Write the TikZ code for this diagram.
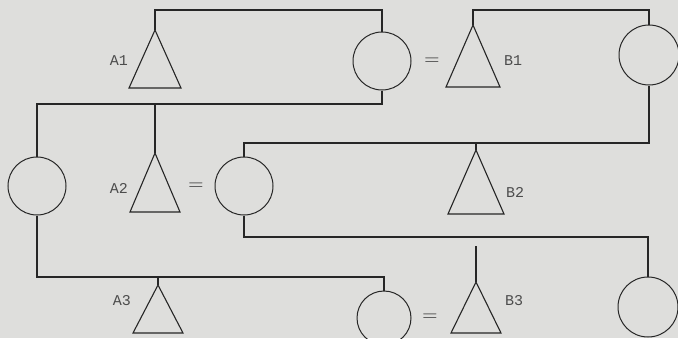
\documentclass[tikz,border=0pt]{standalone}
\usepackage{fontspec}
\setmonofont{Liberation Mono}
\begin{document}
\begin{tikzpicture}[x=1pt,y=-1pt,
  line/.style={draw=black!85,line width=1.1pt},
  fem/.style={circle,draw=black!85,line width=1pt,inner sep=0pt,minimum size=#1},
  lbl/.style={font=\ttfamily\fontsize{15}{15}\selectfont,text=black!70},
  eqs/.style={font=\fontsize{21}{21}\selectfont,text=black!80}]
\fill[color={rgb,255:red,222;green,222;blue,220}] (0,0) rectangle (678,338);
\useasboundingbox (0,0) rectangle (678,338);
% apex coordinates of males
\coordinate (a1) at (155,30);
\coordinate (b1) at (473,25);
\coordinate (a2) at (155,153);
\coordinate (b2) at (476,150);
\coordinate (a3) at (158,285);
\coordinate (b3) at (476,282);
\coordinate (b3t) at (476,246);
% triangles
\draw[line] (a1) -- ++(-26,58) -- ++(52,0) -- cycle;
\draw[line] (b1) -- ++(-27,62) -- ++(54,0) -- cycle;
\draw[line] (a2) -- ++(-25,59) -- ++(50,0) -- cycle;
\draw[line] (b2) -- ++(-28,64) -- ++(56,0) -- cycle;
\draw[line] (a3) -- ++(-25,48) -- ++(50,0) -- cycle;
\draw[line] (b3) -- ++(-25,51) -- ++(50,0) -- cycle;
% females
\node[fem=58] (c1) at (382,61) {};
\node[fem=60] (c2) at (649,55) {};
\node[fem=58] (c3) at (37,186) {};
\node[fem=58] (c4) at (244,186) {};
\node[fem=54] (c5) at (384,318) {};
\node[fem=60] (c6) at (648,307) {};
% labels
\node[lbl] (la1) at (119,61) {A1};
\node[lbl] (lb1) at (513,61) {B1};
\node[lbl] (la2) at (119,188) {A2};
\node[lbl] (lb2) at (515,192) {B2};
\node[lbl] (la3) at (122,301) {A3};
\node[lbl] (lb3) at (514,301) {B3};
% marriage signs
\node[eqs] (e1) at (432,62) {=};
\node[eqs] (e2) at (196,187) {=};
\node[eqs] (e3) at (430,318) {=};
% connectors
\draw[line] (a1) -- (155,10) -| (c1.north);
\draw[line] (b1) -- (473,10) -| (c2.north);
\draw[line] (c1.south) -- (382,104) -| (c3.north);
\draw[line] (a2) -- (155,104);
\draw[line] (c4.north) -- (244,143) -| (c2.south);
\draw[line] (b2) -- (476,143);
\draw[line] (c4.south) -- (244,237) -| (c6.north);
\draw[line] (c3.south) -- (37,277) -| (c5.north);
\draw[line] (a3) -- (158,277);
\draw[line] (b3t) -- (b3);
\end{tikzpicture}
\end{document}
